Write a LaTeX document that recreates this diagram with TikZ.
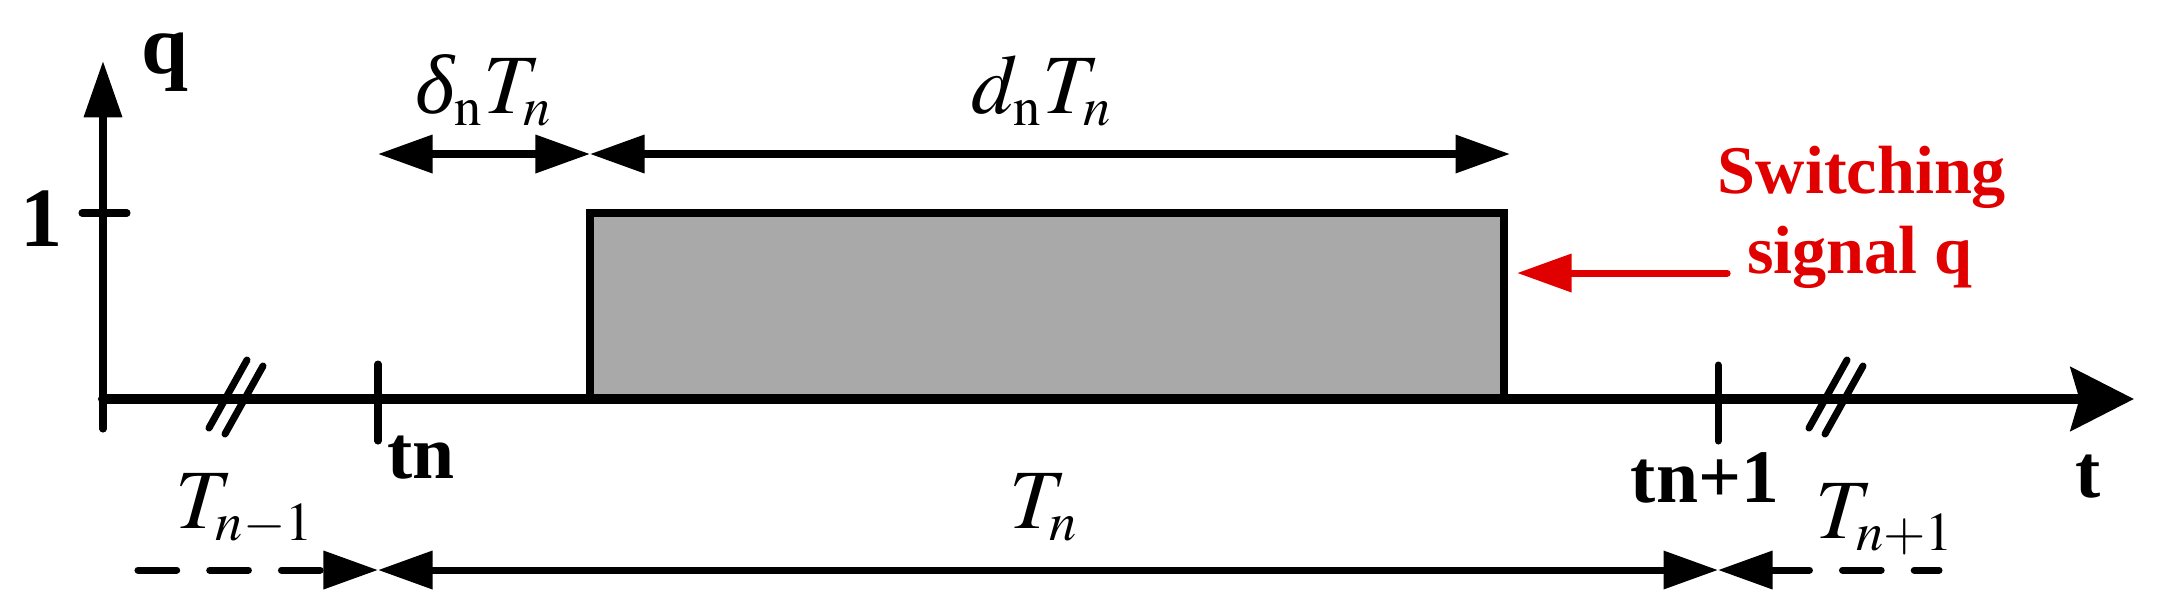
\documentclass[tikz,border=0pt]{standalone}
\usepackage{mathptmx}
\usepackage{fontspec}
\setmainfont{Liberation Serif}
\usetikzlibrary{arrows.meta}
\DeclareMathSizes{24}{24}{15.5}{12}
\definecolor{pulsegray}{RGB}{169,169,169}
\definecolor{sigred}{RGB}{224,0,0}
\newcommand{\itdelta}{\mbox{\itshape δ}}
\tikzset{
  lbl/.style={font=\fontsize{21.5}{25}\selectfont\bfseries, inner sep=0pt, anchor=base},
  axlbl/.style={font=\fontsize{24}{29}\selectfont\bfseries, inner sep=0pt, anchor=base},
  mlbl/.style={font=\fontsize{24}{29}\selectfont, inner sep=0pt, anchor=base},
  redlbl/.style={font=\fontsize{19.4}{23}\selectfont\bfseries, text=sigred, inner sep=0pt, anchor=base},
  thin/.style={line width=2pt, line cap=round},
  onetip/.style={-{Triangle[length=15.5pt,width=10.5pt]}},
  dimline/.style={thin, {Triangle[length=15.5pt,width=10.5pt]}-{Triangle[length=15.5pt,width=10.5pt]}},
  dashline/.style={thin, dash pattern=on 11pt off 9.4pt},
}
\begin{document}
\begin{tikzpicture}[x=0.01cm, y=-0.01cm]
\def\xo{103};
\def\yaxis{399};
\def\yone{213};
\def\tn{378};
\def\tnn{1718};
\def\xon{590};
\def\xoff{1504};
\def\ydim{154};
\def\ybot{570};

\useasboundingbox (0,0) rectangle (2160,614);

\coordinate (o) at (\xo,\yaxis);
\coordinate (ybot) at (\xo,429);
\coordinate (ytop) at (\xo,61);
\coordinate (xend) at (2134,\yaxis);

\filldraw[fill=pulsegray, draw=black, line width=2pt] (\xon,\yaxis) rectangle (\xoff,\yone);

\draw[thin, -{Triangle[length=16pt,width=10.5pt]}] (ybot) -- (ytop);
\draw[line width=2.85pt, line cap=round, -{Stealth[length=18pt,width=18pt,inset=2.5pt]}] (o) -- (xend);

\draw[thin] (82,\yone) -- (127,\yone);
\draw[thin] (\tn,364) -- (\tn,441);
\draw[thin] (\tnn,365) -- (\tnn,441);
\foreach \cx in {236,1836} {
  \draw[thin] (\cx-27,428) -- ++(38,-68);
  \draw[thin] (\cx-11,434) -- ++(38,-68);
}

\node[axlbl] (one) at (42,246) {1};
\node[axlbl] (q) at (165,73) {q};
\node[lbl] (tnlab) at (421,478) {tn};
\node[lbl] (tnnlab) at (1705,502) {tn+1};
\node[lbl] (tlab) at (2088,497) {t};

\coordinate (dl) at (\tn,\ydim);
\coordinate (dm) at (\xon,\ydim);
\coordinate (dr) at (1510,\ydim);
\draw[dimline] (dl) -- (dm);
\draw[dimline] (dm) -- (dr);
\node[mlbl] (dlab) at (484,113) {$\itdelta_{\mathrm{n}}T_n$};
\node[mlbl] (dnlab) at (1042,113) {$d_{\mathrm{n}}T_n$};

\node[redlbl] (sw) at (1862,193) {Switching};
\node[redlbl] (sg) at (1860,273) {signal q};
\coordinate (sigtip) at (1517,273);
\draw[thin, sigred, onetip] ([xshift=-5.5pt]sg.base west) -- (sigtip);

\coordinate (bl) at (138,\ybot);
\coordinate (bn) at (\tn,\ybot);
\coordinate (bnn) at (\tnn,\ybot);
\coordinate (br) at (1939,\ybot);
\draw[dashline, onetip] (bl) -- (bn);
\draw[dimline] (bn) -- (bnn);
\draw[dashline, {Triangle[length=15.5pt,width=10.5pt]}-] (bnn) -- (br);
\node[mlbl] (tnm) at (245,528) {$T_{n-1}$};
\node[mlbl] (tnmid) at (1044,528) {$T_n$};
\node[mlbl] (tnp) at (1885,538) {$T_{n+1}$};

\end{tikzpicture}
\end{document}
